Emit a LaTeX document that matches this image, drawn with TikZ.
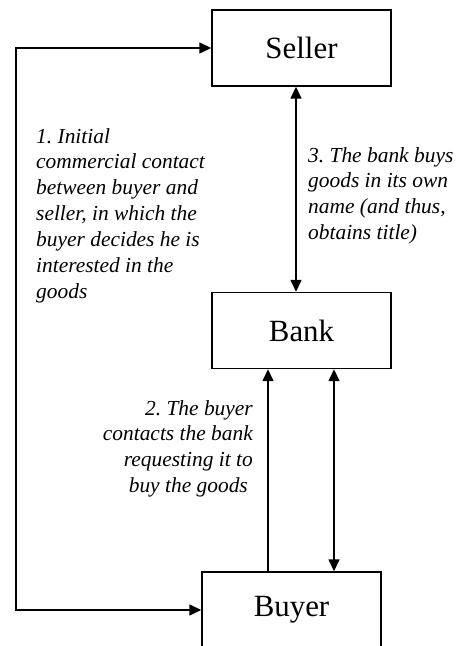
\documentclass[tikz,border=0pt]{standalone}
\usepackage{fontspec}
\setmainfont{Liberation Serif}
\usetikzlibrary{arrows.meta}
\begin{document}
\frenchspacing
\begin{tikzpicture}[x=1bp,y=-1bp,
  box/.style={draw, line width=1.4bp, minimum width=179bp, minimum height=76bp, inner sep=0pt, font=\fontsize{31}{36}\selectfont},
  lbl/.style={font=\fontsize{21.5}{26}\selectfont\itshape, inner sep=0pt},
  tip/.tip={Triangle[length=12bp,width=11bp]},
  con/.style={line width=1.4bp}]
\useasboundingbox (0,0) rectangle (459,646);
\node[box] (seller) at (301.5,48) {Seller};
\node[box] (bank) at (301.5,330.5) {Bank};
\node[box] (buyer) at (291.5,610) {Buyer};
\coordinate (cx) at (16,0);
\coordinate (a3) at (296,0);
\coordinate (a2) at (268,0);
\coordinate (a4) at (334,0);
\draw[con, tip-tip] (seller.west) -- (seller.west -| cx) -- (buyer.west -| cx) -- (buyer.west);
\draw[con, tip-tip] (seller.south -| a3) -- (bank.north -| a3);
\draw[con, -tip] (buyer.north -| a2) -- (bank.south -| a2);
\draw[con, tip-tip] (bank.south -| a4) -- (buyer.north -| a4);
\node[lbl, anchor=north west, align=left] (t1) at (36,128) {1. Initial\\commercial contact\\between buyer and\\seller, in which the\\buyer decides he is\\interested in the\\goods};
\node[lbl, anchor=north west, align=left] (t3) at (308,147) {3. The bank buys\\goods in its own\\name (and thus,\\obtains title)};
\node[lbl, anchor=north east, align=right] (t2) at (253,400) {2. The buyer\\contacts the bank\\requesting it to\\buy the goods\hspace*{5bp}};
\end{tikzpicture}
\end{document}
